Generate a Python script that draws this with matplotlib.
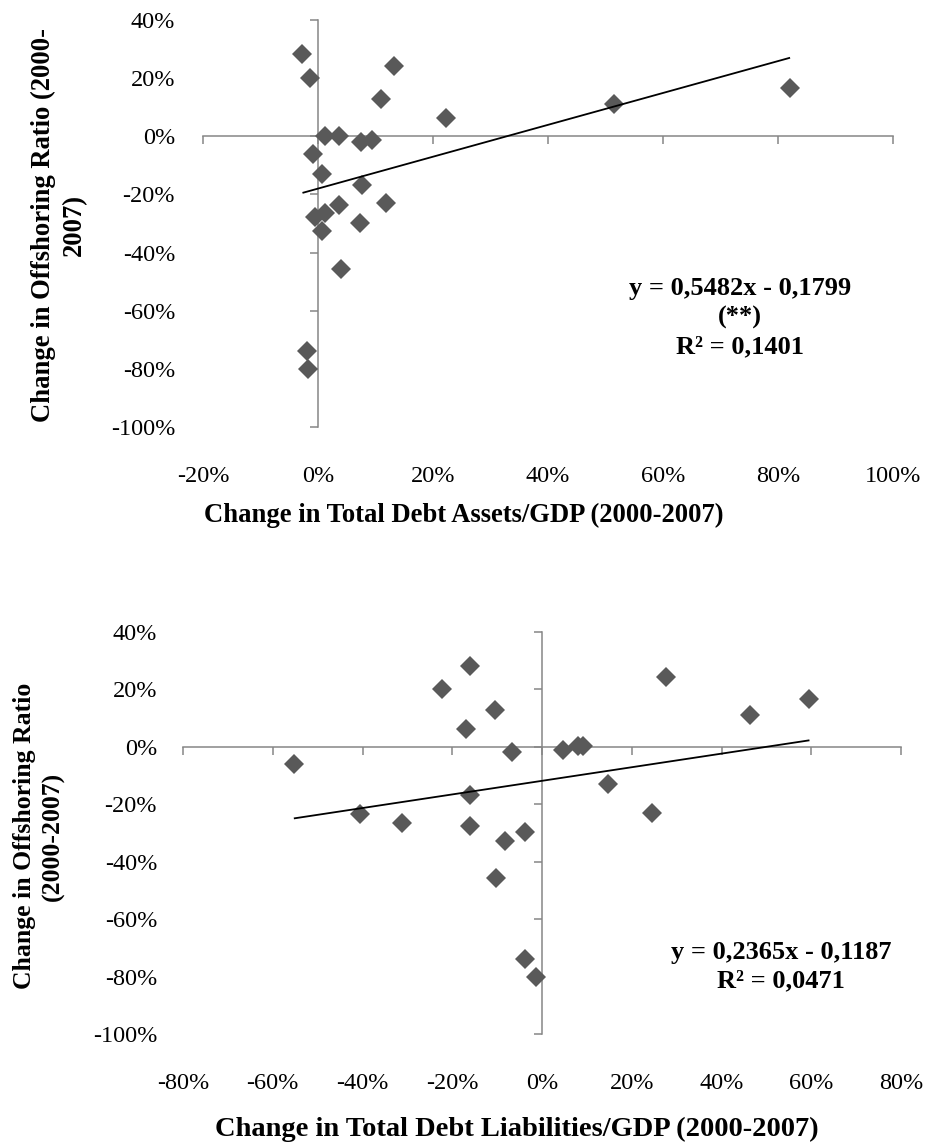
import matplotlib
matplotlib.use("Agg")
import matplotlib.pyplot as plt
from matplotlib.ticker import FixedLocator, FuncFormatter

# Change in offshoring ratio 2000-2007, one value per country
offshoring = [0.282, 0.200, 0.243, 0.128, 0.063, 0.112, 0.166, 0.001, 0.002,
              -0.012, -0.020, -0.060, -0.129, -0.168, -0.235, -0.231, -0.276,
              -0.265, -0.298, -0.327, -0.457, -0.737, -0.802]
# Change in total debt assets / GDP 2000-2007
debt_assets = [-0.027, -0.014, 0.133, 0.110, 0.222, 0.514, 0.821, 0.012, 0.037,
               0.094, 0.074, -0.008, 0.007, 0.076, 0.036, 0.118, -0.006,
               0.013, 0.073, 0.007, 0.040, -0.020, -0.017]
# Change in total debt liabilities / GDP 2000-2007
debt_liabilities = [-0.161, -0.223, 0.276, -0.104, -0.170, 0.463, 0.596, 0.091, 0.081,
                    0.047, -0.066, -0.553, 0.146, -0.161, -0.405, 0.245, -0.161,
                    -0.311, -0.037, -0.083, -0.102, -0.037, -0.013]

# Linear trend lines (slope, intercept)
assets_fit = (0.5482, -0.1799)
liabilities_fit = (0.2365, -0.1187)

assets_eq = "y = 0,5482x - 0,1799\n(**)\nR² = 0,1401"
liabilities_eq = "y = 0,2365x - 0,1187\nR² = 0,0471"

assets_xticks = [-0.2, 0.0, 0.2, 0.4, 0.6, 0.8, 1.0]
liabilities_xticks = [-0.8, -0.6, -0.4, -0.2, 0.0, 0.2, 0.4, 0.6, 0.8]
yticks = [-1.0, -0.8, -0.6, -0.4, -0.2, 0.0, 0.2, 0.4]

FONT = "Liberation Serif"
W, H, DPI = 927, 1145, 100
AXIS_GRAY = "#868686"
MARKER_GRAY = "#595959"
TICK_LEN = 5.5
TICK_SIZE = 17.5

plt.rcParams["font.family"] = [FONT, "DejaVu Serif"]

fig = plt.figure(figsize=(W / DPI, H / DPI), dpi=DPI)


def pct(v, _pos=None):
    return f"{round(v * 100):d}%"


def crossed_axes(rect_px, xticks, gap_y_px, gap_x_px):
    left, top, right, bottom = rect_px
    ax = fig.add_axes([left / W, 1 - bottom / H, (right - left) / W, (bottom - top) / H])
    xlim = (xticks[0], xticks[-1])
    ylim = (yticks[0], yticks[-1])
    ax.set_xlim(*xlim)
    ax.set_ylim(*ylim)
    for side in ("top", "right"):
        ax.spines[side].set_visible(False)
    for side in ("left", "bottom"):
        ax.spines[side].set_position(("data", 0))
        ax.spines[side].set_color(AXIS_GRAY)
        ax.spines[side].set_linewidth(1.1)
    ax.xaxis.set_major_locator(FixedLocator(xticks))
    ax.yaxis.set_major_locator(FixedLocator(yticks))
    ax.xaxis.set_major_formatter(FuncFormatter(pct))
    ax.yaxis.set_major_formatter(FuncFormatter(pct))
    # Tick labels sit at the outer edge of the plot, away from the crossing axes
    width_px = right - left
    height_px = bottom - top
    spine_x = (0 - xlim[0]) / (xlim[1] - xlim[0]) * width_px
    spine_y = (0 - ylim[0]) / (ylim[1] - ylim[0]) * height_px
    ypad = (spine_x + gap_y_px) * 72 / DPI - TICK_LEN
    xpad = (spine_y + gap_x_px) * 72 / DPI - TICK_LEN
    ax.tick_params(axis="y", direction="out", length=TICK_LEN, width=1.1,
                   color=AXIS_GRAY, pad=ypad, labelsize=TICK_SIZE)
    ax.tick_params(axis="x", direction="out", length=TICK_LEN, width=1.1,
                   color=AXIS_GRAY, pad=xpad, labelsize=TICK_SIZE)
    ax.patch.set_visible(False)
    return ax


def scatter_with_trend(ax, x, y, fit):
    ax.plot(x, y, linestyle="none", marker="D", markersize=10.2,
            color=MARKER_GRAY, markeredgewidth=0, zorder=3, clip_on=False)
    slope, intercept = fit
    xs = [min(x), max(x)]
    ax.plot(xs, [slope * v + intercept for v in xs], color="black",
            linewidth=1.3, zorder=4, solid_capstyle="butt")


# Upper panel: debt assets
ax1 = crossed_axes((203, 20, 893, 427), assets_xticks, 28, 39)
scatter_with_trend(ax1, debt_assets, offshoring, assets_fit)
ax1.text(0.734, -0.624, assets_eq, ha="center", va="center", fontsize=19,
         fontweight="bold", linespacing=1.33)
fig.text(463.5 / W, 1 - 515 / H, "Change in Total Debt Assets/GDP (2000-2007)",
         ha="center", va="center", fontsize=19.2, fontweight="bold")
fig.text(59 / W, 1 - 225 / H, "Change in Offshoring Ratio (2000-\n2007)",
         ha="center", va="center", rotation=90, multialignment="center",
         fontsize=19.2, fontweight="bold", linespacing=1.32)

# Lower panel: debt liabilities
ax2 = crossed_axes((183, 631.7, 901, 1034.2), liabilities_xticks, 26, 39)
scatter_with_trend(ax2, debt_liabilities, offshoring, liabilities_fit)
ax2.text(0.533, -0.765, liabilities_eq, ha="center", va="center", fontsize=19,
         fontweight="bold", linespacing=1.33)
fig.text(516.5 / W, 1 - 1129 / H, "Change in Total Debt Liabilities/GDP (2000-2007)",
         ha="center", va="center", fontsize=20.5, fontweight="bold")
fig.text(39 / W, 1 - 836 / H, "Change in Offshoring Ratio\n(2000-2007)",
         ha="center", va="center", rotation=90, multialignment="center",
         fontsize=18.5, fontweight="bold", linespacing=1.34)

fig.savefig("out.png", dpi=DPI)
